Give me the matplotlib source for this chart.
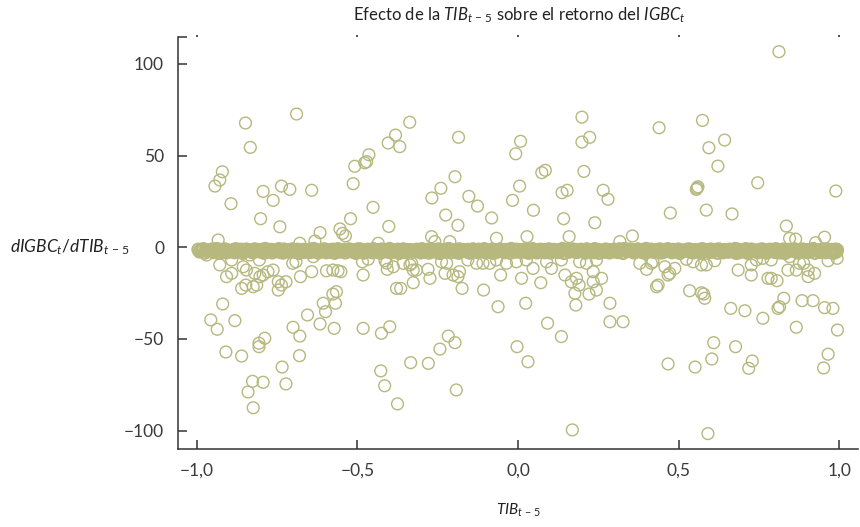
import matplotlib
matplotlib.use("Agg")
import matplotlib.pyplot as plt
from matplotlib.ticker import FixedLocator

plt.rcParams['font.family'] = ['Lato', 'DejaVu Sans']
plt.rcParams['mathtext.fontset'] = 'custom'
plt.rcParams['mathtext.rm'] = 'Lato'
plt.rcParams['mathtext.it'] = 'Lato:italic'
plt.rcParams['mathtext.sf'] = 'Lato'

# puntos fuera de la banda (x = TIB_{t-5}, y = dIGBC/dTIB)
pts_x = [
    -0.689, -0.848, -0.833, -0.404, -0.464, -0.471, -0.477, -0.508, -0.513, -0.920,
    -0.928, -0.943, -0.893, -0.793, -0.736, -0.710, -0.642, -0.762, -0.801, -0.741,
    -0.521, -0.451, -0.554, -0.402, -0.616, -0.337, -0.381, -0.368, -0.185, 0.008,
    -0.007, 0.199, 0.199, 0.223, 0.205, -0.196, -0.240, -0.268, -0.153, -0.126,
    -0.225, -0.187, -0.082, 0.005, -0.017, 0.048, 0.074, 0.085, 0.137, 0.153,
    0.142, 0.265, 0.280, 0.239, 0.812, 0.439, 0.574, 0.643, 0.594, 0.622,
    0.746, 0.560, 0.555, 0.557, 0.989, 0.474, 0.586, 0.666, 0.835, -0.546,
    -0.537, -0.933, -0.632, -0.679, -0.435, -0.269, -0.259, -0.212, -0.067, 0.028,
    0.159, 0.356, 0.845, 0.864, 0.954, 0.926, 0.317,
    -0.969, -0.928, -0.891, -0.907, -0.891, -0.855, -0.845, -0.860, -0.847, -0.824,
    -0.813, -0.803, -0.819, -0.793, -0.805, -0.834, -0.762, -0.778, -0.746, -0.746,
    -0.736, -0.722, -0.701, -0.691, -0.677, -0.642, -0.637, -0.596, -0.576, -0.560,
    -0.551, -0.576, -0.565, -0.606, -0.599, -0.568, -0.655, -0.616, -0.572, -0.700,
    -0.679, -0.680, -0.734, -0.722, -0.793, -0.826, -0.840, -0.824, -0.788, -0.806,
    -0.806, -0.860, -0.909, -0.919, -0.956, -0.936, -0.881, -0.482, -0.425, -0.427,
    -0.415, -0.484, -0.466, -0.482, -0.414, -0.407, -0.388, -0.378, -0.365, -0.357,
    -0.331, -0.326, -0.316, -0.326, -0.280, -0.274, -0.238, -0.222, -0.227, -0.202,
    -0.187, -0.182, -0.174, -0.156, -0.109, -0.088, -0.107, -0.054, -0.062, 0.011,
    0.024, 0.047, 0.071, 0.104, 0.146, 0.166, 0.182, 0.190, 0.177, 0.180,
    0.234, 0.260, 0.244, 0.221, 0.234, 0.286, 0.286, 0.092, 0.135, -0.003,
    0.031, 0.169, -0.399, -0.217, -0.196, -0.243, -0.334, -0.279, -0.375, -0.192,
    0.379, 0.400, 0.415, 0.420, 0.457, 0.472, 0.467, 0.488, 0.431, 0.436,
    0.327, 0.534, 0.571, 0.581, 0.578, 0.524, 0.545, 0.571, 0.586, 0.612,
    0.685, 0.726, 0.726, 0.742, 0.762, 0.788, 0.778, 0.788, 0.806, 0.662,
    0.706, 0.762, 0.809, 0.814, 0.827, 0.866, 0.884, 0.918, 0.954, 0.980,
    0.994, 0.845, 0.876, 0.889, 0.903, 0.903, 0.923, 0.866, 0.840, 0.965,
    0.993, 0.609, 0.603, 0.677, 0.467, 0.551, 0.729, 0.718, 0.965, 0.951,
    0.591, -0.409, -0.336, -0.129, -0.067, -0.036, -0.005, 0.026, 0.089, 0.135,
    0.192, 0.213, 0.244,
]
pts_y = [
    72.7, 67.8, 54.5, 56.9, 50.5, 46.7, 46.1, 44.2, 34.7, 41.2,
    36.7, 33.4, 23.8, 30.5, 33.4, 31.6, 31.1, 25.6, 15.6, 11.2,
    15.6, 21.8, 10.0, 11.4, 8.0, 68.2, 61.2, 54.9, 60.0, 57.8,
    51.0, 71.0, 57.4, 60.0, 41.4, 38.5, 32.2, 26.9, 27.8, 22.5,
    17.6, 12.0, 16.0, 33.4, 25.6, 20.2, 40.7, 42.0, 29.8, 31.1,
    15.6, 31.1, 26.2, 13.4, 106.7, 65.2, 69.2, 58.5, 54.3, 44.3,
    35.2, 33.0, 31.6, 32.3, 30.7, 18.7, 20.3, 18.2, 11.6, 7.6,
    6.2, 4.0, 3.4, 2.2, 2.2, 5.8, 3.1, 3.1, 4.9, 5.8,
    5.8, 6.2, 4.9, 4.5, 5.5, 2.5, 3.1,
    -4.2, -9.6, -6.9, -16.0, -14.2, -10.6, -12.4, -22.4, -20.6, -21.5,
    -20.6, -16.0, -14.2, -15.1, -6.9, -4.2, -12.4, -13.3, -18.8, -23.3,
    -20.6, -18.8, -8.7, -7.9, -16.0, -13.3, -5.1, -12.8, -12.4, -12.8,
    -13.3, -25.5, -24.2, -30.5, -35.1, -30.5, -36.9, -41.8, -44.2, -43.6,
    -48.4, -59.1, -65.3, -74.5, -73.6, -73.1, -78.9, -87.5, -49.6, -52.3,
    -54.2, -59.3, -57.1, -30.9, -39.6, -44.7, -40.0, -44.2, -46.9, -67.4,
    -75.5, -7.9, -6.5, -15.1, -7.3, -12.0, -10.6, -22.4, -22.4, -8.7,
    -8.7, -12.4, -12.4, -19.3, -12.0, -16.9, -7.9, -8.7, -14.2, -15.1,
    -16.0, -13.3, -22.4, -6.9, -8.7, -8.7, -23.3, -15.1, -32.4, -16.9,
    -30.5, -11.5, -19.3, -11.5, -15.1, -18.8, -16.9, -20.6, -25.1, -31.5,
    -13.3, -16.9, -23.3, -25.5, -18.8, -30.5, -40.6, -41.4, -48.7, -54.2,
    -62.4, -99.6, -43.3, -48.4, -52.0, -55.5, -62.9, -63.3, -85.4, -77.8,
    -8.7, -12.0, -8.7, -7.9, -10.6, -14.2, -15.1, -11.5, -21.5, -20.6,
    -40.6, -23.7, -24.8, -27.8, -25.5, -6.5, -7.9, -9.6, -9.6, -7.3,
    -12.4, -15.1, -9.6, -6.9, -6.0, -6.9, -16.9, -16.9, -18.2, -33.3,
    -34.6, -38.7, -33.3, -32.4, -27.8, -43.6, -29.1, -29.1, -32.9, -33.3,
    -45.1, -5.1, -8.7, -8.7, -12.4, -16.0, -14.2, -12.4, -12.4, -7.3,
    -6.0, -52.0, -60.9, -54.2, -63.6, -65.3, -62.0, -66.0, -58.3, -65.8,
    -101.6, -8.6, -9.6, -8.7, -6.9, -8.7, -7.9, -6.9, -7.9, -6.9,
    -7.9, -8.7, -6.9,
]

# banda densa de valores cercanos a cero (dos pasadas intercaladas)
band_x = [
    -0.995, -0.988, -0.979, -0.972, -0.961, -0.953, -0.946, -0.937, -0.928, -0.921, -0.912, -0.903, -0.897, -0.886, -0.878, -0.871, -0.862, -0.853, -0.846, -0.837,
    -0.828, -0.819, -0.812, -0.803, -0.794, -0.786, -0.777, -0.770, -0.761, -0.752, -0.744, -0.735, -0.728, -0.719, -0.710, -0.702, -0.693, -0.686, -0.677, -0.668,
    -0.660, -0.651, -0.644, -0.635, -0.626, -0.618, -0.609, -0.602, -0.593, -0.584, -0.576, -0.567, -0.560, -0.551, -0.542, -0.534, -0.525, -0.518, -0.509, -0.500,
    -0.492, -0.483, -0.476, -0.467, -0.458, -0.450, -0.441, -0.434, -0.425, -0.416, -0.408, -0.399, -0.392, -0.383, -0.374, -0.366, -0.357, -0.350, -0.341, -0.332,
    -0.324, -0.315, -0.308, -0.299, -0.290, -0.282, -0.273, -0.266, -0.257, -0.248, -0.240, -0.231, -0.224, -0.215, -0.206, -0.198, -0.189, -0.182, -0.173, -0.164,
    -0.156, -0.147, -0.140, -0.131, -0.122, -0.114, -0.105, -0.098, -0.089, -0.080, -0.072, -0.063, -0.056, -0.047, -0.038, -0.030, -0.021, -0.014, -0.005, 0.004,
    0.012, 0.021, 0.028, 0.037, 0.046, 0.054, 0.063, 0.070, 0.079, 0.088, 0.096, 0.105, 0.112, 0.121, 0.130, 0.138, 0.147, 0.154, 0.163, 0.172,
    0.180, 0.189, 0.196, 0.205, 0.214, 0.222, 0.231, 0.238, 0.247, 0.256, 0.264, 0.273, 0.280, 0.289, 0.298, 0.306, 0.315, 0.322, 0.331, 0.340,
    0.348, 0.357, 0.364, 0.373, 0.382, 0.390, 0.399, 0.406, 0.415, 0.424, 0.432, 0.441, 0.448, 0.457, 0.466, 0.474, 0.483, 0.490, 0.499, 0.508,
    0.516, 0.525, 0.532, 0.541, 0.550, 0.558, 0.567, 0.574, 0.583, 0.592, 0.600, 0.609, 0.616, 0.625, 0.634, 0.642, 0.651, 0.658, 0.667, 0.676,
    0.684, 0.693, 0.700, 0.709, 0.718, 0.726, 0.735, 0.742, 0.751, 0.760, 0.768, 0.777, 0.784, 0.793, 0.802, 0.810, 0.819, 0.826, 0.835, 0.844,
    0.852, 0.861, 0.868, 0.877, 0.886, 0.894, 0.903, 0.910, 0.919, 0.928, 0.936, 0.945, 0.952, 0.961, 0.970, 0.976, 0.983, 0.989, 0.993, 0.985,
]
band_y = [
    -1.2, -1.8, -0.9, -1.5, -2.0, -1.1, -1.6, -0.8, -1.9, -1.3, -1.0, -1.7, -2.1, -1.4, -0.9, -1.6, -1.2, -1.9, -1.1, -1.5,
    -1.7, -1.0, -1.4, -2.0, -1.2, -0.8, -1.8, -1.3, -1.6, -2.1, -0.9, -1.5, -1.1, -1.9, -1.4, -1.0, -1.7, -1.2, -2.0, -1.3,
    -1.5, -1.9, -1.1, -0.8, -1.6, -2.0, -1.3, -1.0, -1.8, -1.4, -1.2, -2.1, -0.9, -1.6, -1.3, -1.7, -1.0, -1.9, -1.5, -1.1,
    -1.0, -1.6, -2.0, -1.2, -1.4, -0.9, -1.8, -1.5, -1.1, -1.9, -1.3, -0.8, -1.7, -2.1, -1.2, -1.5, -1.0, -1.8, -1.4, -1.6,
    -1.8, -1.2, -1.5, -0.9, -2.0, -1.3, -1.1, -1.7, -1.4, -1.0, -1.9, -1.6, -1.2, -0.8, -1.5, -2.1, -1.3, -1.0, -1.7, -1.4,
    -1.3, -1.9, -1.0, -1.6, -1.2, -2.0, -0.9, -1.5, -1.8, -1.1, -1.4, -1.7, -1.0, -2.1, -1.3, -1.6, -0.8, -1.9, -1.2, -1.5,
    -1.6, -1.1, -1.8, -1.3, -0.9, -1.5, -2.0, -1.2, -1.4, -1.7, -1.0, -1.9, -1.3, -1.6, -2.1, -0.8, -1.5, -1.2, -1.8, -1.1,
    -1.4, -2.0, -1.2, -1.7, -1.0, -1.5, -1.9, -0.9, -1.3, -1.6, -1.8, -1.1, -1.4, -2.0, -1.2, -1.7, -1.0, -1.5, -0.8, -1.9,
    -1.1, -1.5, -1.9, -1.0, -1.6, -1.3, -0.8, -1.8, -1.2, -2.1, -1.4, -1.0, -1.7, -1.5, -0.9, -2.0, -1.3, -1.6, -1.1, -1.8,
    -1.9, -1.3, -1.0, -1.6, -1.4, -2.0, -1.2, -0.9, -1.7, -1.5, -1.1, -1.8, -1.3, -1.0, -1.9, -1.4, -2.1, -1.2, -1.6, -0.8,
    -1.2, -1.7, -1.4, -0.9, -1.9, -1.1, -1.6, -2.0, -1.3, -1.0, -1.5, -1.8, -1.2, -1.7, -0.9, -1.4, -2.0, -1.1, -1.6, -1.3,
    -1.5, -1.0, -1.8, -1.3, -1.1, -1.9, -1.4, -1.7, -0.8, -1.6, -2.0, -1.2, -1.5, -1.0, -1.8, -1.3, -1.6, -1.1, -1.4, -1.9,
]
band2_x = [
    -0.991, -0.983, -0.975, -0.967, -0.957, -0.949, -0.941, -0.932, -0.924, -0.916, -0.907, -0.899, -0.891, -0.882, -0.874, -0.866, -0.857, -0.849, -0.841, -0.832,
    -0.824, -0.815, -0.807, -0.799, -0.790, -0.781, -0.773, -0.765, -0.756, -0.748, -0.739, -0.731, -0.723, -0.714, -0.706, -0.697, -0.689, -0.681, -0.672, -0.664,
    -0.655, -0.647, -0.639, -0.630, -0.622, -0.613, -0.605, -0.597, -0.588, -0.580, -0.571, -0.563, -0.555, -0.546, -0.538, -0.529, -0.521, -0.513, -0.504, -0.496,
    -0.487, -0.479, -0.471, -0.462, -0.454, -0.445, -0.437, -0.429, -0.420, -0.412, -0.403, -0.395, -0.387, -0.378, -0.370, -0.361, -0.353, -0.345, -0.336, -0.328,
    -0.319, -0.311, -0.303, -0.294, -0.286, -0.277, -0.269, -0.261, -0.252, -0.244, -0.235, -0.227, -0.219, -0.210, -0.202, -0.193, -0.185, -0.177, -0.168, -0.160,
    -0.151, -0.143, -0.135, -0.126, -0.118, -0.109, -0.101, -0.093, -0.084, -0.076, -0.067, -0.059, -0.051, -0.042, -0.034, -0.025, -0.017, -0.009, 0.000, 0.008,
    0.017, 0.025, 0.033, 0.042, 0.050, 0.059, 0.067, 0.075, 0.084, 0.092, 0.101, 0.109, 0.117, 0.126, 0.134, 0.143, 0.151, 0.159, 0.168, 0.176,
    0.185, 0.193, 0.201, 0.210, 0.218, 0.227, 0.235, 0.243, 0.252, 0.260, 0.269, 0.277, 0.285, 0.294, 0.302, 0.311, 0.319, 0.327, 0.336, 0.344,
    0.353, 0.361, 0.369, 0.378, 0.386, 0.395, 0.403, 0.411, 0.420, 0.428, 0.437, 0.445, 0.453, 0.462, 0.470, 0.479, 0.487, 0.495, 0.504, 0.512,
    0.521, 0.529, 0.537, 0.546, 0.554, 0.563, 0.571, 0.579, 0.588, 0.596, 0.605, 0.613, 0.621, 0.630, 0.638, 0.647, 0.655, 0.663, 0.672, 0.680,
    0.689, 0.697, 0.705, 0.714, 0.722, 0.731, 0.739, 0.747, 0.756, 0.764, 0.773, 0.781, 0.789, 0.798, 0.806, 0.815, 0.823, 0.831, 0.840, 0.848,
    0.857, 0.865, 0.873, 0.882, 0.890, 0.899, 0.907, 0.915, 0.924, 0.932, 0.941, 0.949, 0.957, 0.966, 0.973, 0.979, 0.986, 0.991, 0.981, 0.977,
]
band2_y = [
    -2.4, -1.6, -3.0, -2.1, -1.8, -2.7, -2.2, -3.1, -1.5, -2.5, -2.9, -1.9, -2.3, -2.8, -1.7, -2.6, -3.2, -2.0, -1.4, -2.4,
    -2.8, -2.0, -1.5, -2.6, -3.1, -1.8, -2.3, -2.9, -1.6, -2.2, -2.7, -3.0, -1.9, -2.4, -1.4, -2.5, -2.1, -3.2, -1.7, -2.6,
    -1.9, -2.7, -2.3, -1.5, -3.0, -2.2, -1.8, -2.8, -2.5, -1.6, -3.1, -2.0, -2.4, -1.7, -2.9, -2.2, -1.4, -2.6, -3.2, -2.1,
    -2.5, -3.0, -1.7, -2.2, -2.8, -1.5, -2.4, -3.1, -2.0, -1.8, -2.6, -2.9, -1.6, -2.3, -3.2, -1.9, -2.7, -2.1, -1.4, -2.5,
    -2.2, -1.8, -2.9, -2.5, -1.6, -3.0, -2.3, -1.9, -2.7, -3.2, -1.5, -2.4, -2.0, -2.8, -1.7, -2.6, -3.1, -2.1, -1.4, -2.3,
    -3.0, -2.3, -1.7, -2.7, -2.1, -1.5, -2.9, -2.4, -1.8, -3.2, -2.6, -2.0, -1.6, -2.8, -2.2, -3.1, -1.9, -2.5, -1.4, -2.7,
    -1.7, -2.6, -3.1, -2.0, -2.4, -2.9, -1.5, -2.2, -2.8, -1.9, -3.0, -2.3, -1.6, -2.7, -2.1, -3.2, -1.8, -2.5, -1.4, -2.4,
    -2.6, -2.1, -1.8, -3.0, -2.4, -1.6, -2.8, -2.2, -3.1, -1.9, -2.5, -2.0, -2.9, -1.5, -2.3, -2.7, -1.7, -3.2, -2.1, -1.4,
    -2.3, -2.9, -2.0, -1.6, -2.7, -3.1, -2.2, -1.8, -2.5, -2.4, -1.5, -3.0, -2.6, -1.9, -2.1, -2.8, -1.4, -2.3, -3.2, -1.7,
    -2.0, -1.5, -2.6, -2.9, -1.8, -2.3, -3.0, -2.1, -1.7, -2.7, -2.4, -1.6, -3.1, -2.2, -2.8, -1.9, -2.5, -1.4, -2.6, -3.2,
    -2.7, -2.2, -1.9, -3.1, -2.5, -1.7, -2.3, -2.8, -1.5, -2.0, -3.0, -2.4, -1.8, -2.6, -2.1, -2.9, -1.6, -3.2, -2.3, -1.4,
    -1.8, -2.5, -3.0, -2.2, -1.6, -2.7, -2.4, -1.9, -3.1, -2.0, -2.6, -1.5, -2.8, -2.3, -1.7, -2.9, -2.1, -2.5, -3.2, -1.4,
]

x_ticks = [-1.0, -0.5, 0.0, 0.5, 1.0]
x_labels = ['\u22121,0', '\u22120,5', '0,0', '0,5', '1,0']
y_ticks = [-100, -50, 0, 50, 100]
y_labels = ['\u2212100', '\u221250', '0', '50', '100']

col = '#b6b87e'
axcol = '#333333'

fig = plt.figure(figsize=(8.6, 5.27), dpi=100)
ax = fig.add_axes([178/860, 78/527, (858-178)/860, (449-37)/527])

ax.scatter(band_x, band_y, s=72, facecolors='none', edgecolors=col, linewidths=1.5)
ax.scatter(band2_x, band2_y, s=72, facecolors='none', edgecolors=col, linewidths=1.5)
ax.scatter(pts_x, pts_y, s=72, facecolors='none', edgecolors=col, linewidths=1.0)

ax.set_xlim(-1.058, 1.058)
ax.set_ylim(-110, 114.7)
ax.set_xticks(x_ticks)
ax.set_xticklabels(x_labels)
ax.set_yticks(y_ticks)
ax.set_yticklabels(y_labels)
ax.yaxis.set_minor_locator(FixedLocator([114.7]))

for s in ['top', 'right']:
    ax.spines[s].set_visible(False)
for s in ['left', 'bottom']:
    ax.spines[s].set_color(axcol)
    ax.spines[s].set_linewidth(1.1)

ax.tick_params(which='both', direction='in', length=6.5, width=1.1, color=axcol,
               labelsize=12.5, labelcolor='#3a3a3a', pad=10)

top = ax.secondary_xaxis('top')
top.set_xticks(x_ticks)
top.tick_params(direction='out', length=1.5, width=1.2, color=axcol, labeltop=False)
top.spines['top'].set_visible(False)

fig.text(519/860, 1-15/527, r'Efecto de la $TIB_{t\,-\,5}$ sobre el retorno del $IGBC_t$',
         ha='center', va='center', fontsize=12, color='#222222')
fig.text(10/860, 1-247/527, r'$dIGBC_t/dTIB_{t\,-\,5}$', ha='left', va='center',
         fontsize=12.5, color='#222222')
fig.text(519/860, 1-510/527, r'$TIB_{t\,-\,5}$', ha='center', va='center',
         fontsize=11, color='#222222')

fig.savefig('out.png', dpi=100)
